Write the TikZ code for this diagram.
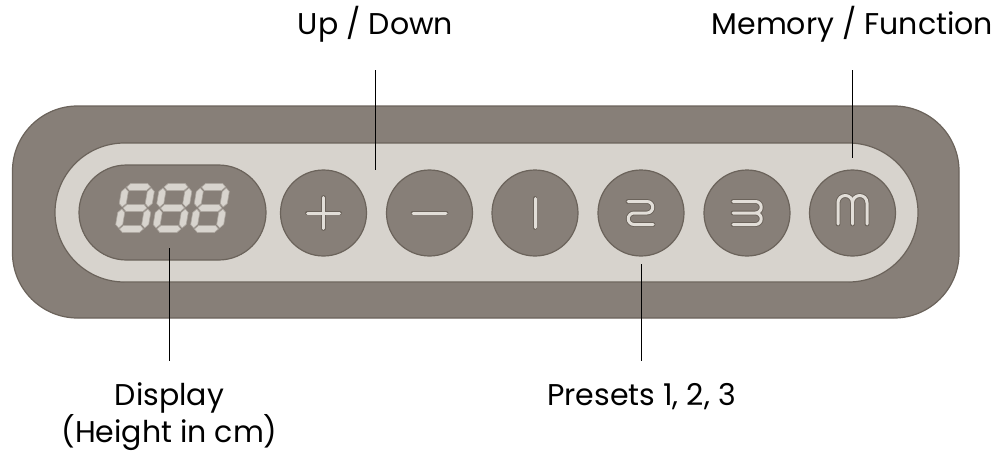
\documentclass[tikz,border=0pt]{standalone}
\usepackage{fontspec}
\setmainfont{Poppins}
\definecolor{shell}{HTML}{877F78}
\definecolor{rim}{HTML}{6B635B}
\definecolor{band}{HTML}{D7D3CD}
\definecolor{glyphfill}{HTML}{E2DED8}
\definecolor{segfill}{HTML}{D8D4CE}
\definecolor{segedge}{HTML}{ADA7A0}
\begin{document}
\begin{tikzpicture}[x=1pt,y=-1pt]
	\tikzset{
		panel/.style={draw=rim,line width=1.2pt,fill=#1},
		key/.style={circle,draw=rim,line width=1.2pt,fill=shell,minimum size=86pt,inner sep=0pt},
		glyph/.style={draw=rim,line width=0.9pt,double=glyphfill,double distance=3pt,line cap=round,line join=round},
		seg/.style={draw=segedge,line width=0.6pt,fill=segfill},
		callout/.style={font=\fontsize{30}{37}\selectfont,inner sep=0pt,text depth=0pt,anchor=base,align=center},
		leader/.style={draw=black,line width=1.1pt}
	}
	\useasboundingbox (0,0) rectangle (995,452);
	% housing
	\draw[panel=shell,rounded corners=65pt] (12.5,106) rectangle (959,318);
	\draw[panel=band,rounded corners=69.5pt] (55,143) rectangle (918,282);
	\node[panel=shell,rounded corners=47.5pt,minimum width=187pt,minimum height=95pt] (display) at (172.5,212.5) {};
	% keys
	\foreach \name/\x in {plus/323.5,minus/429.5,one/535,two/641,three/747,mem/852.5}
		\node[key] (\name) at (\x,213) {};
	% seven segment digits
	\foreach \cx in {135,172.5,210} {
		\begin{scope}[shift={(\cx,208)},xslant=0.17]
			\foreach \sy in {-21,0,21}
				\draw[seg] (-12,\sy) -- (-8.5,\sy-3.5) -- (8.5,\sy-3.5) -- (12,\sy) -- (8.5,\sy+3.5) -- (-8.5,\sy+3.5) -- cycle;
			\foreach \sx in {-13,13}
				\foreach \ya/\yb in {-20/-1,1/20}
					\draw[seg] (\sx,\ya) -- (\sx+3.5,\ya+3.5) -- (\sx+3.5,\yb-3.5) -- (\sx,\yb) -- (\sx-3.5,\yb-3.5) -- (\sx-3.5,\ya+3.5) -- cycle;
		\end{scope}
	}
	% key glyphs
	\draw[glyph,shift={(plus.center)}] (-16,0) -- (16,0) (0,-15.5) -- (0,15.5);
	\draw[glyph,shift={(minus.center)}] (-16.5,0) -- (16.5,0);
	\draw[glyph,shift={(one.center)}] (0,-14.5) -- (0,14.5);
	\draw[glyph,shift={(two.center)}] (-13,-11.5) -- (6,-11.5) arc[start angle=-90,end angle=90,radius=5.75]
		-- (-7,0) arc[start angle=-90,end angle=-270,radius=5.75] -- (12,11.5);
	\draw[glyph,shift={(three.center)}] (-14,-11.5) -- (8.5,-11.5) arc[start angle=-90,end angle=90,radius=5.75]
		arc[start angle=-90,end angle=90,radius=5.75] -- (-14,11.5) (8.5,0) -- (-14,0);
	\draw[glyph,shift={(mem.center)}] (-14.5,11) -- (-14.5,-10.25) arc[start angle=180,end angle=360,radius=7.25]
		-- (0,11) (0,-10.25) arc[start angle=180,end angle=360,radius=7.25] -- (14.5,11);
	% labels
	\node[callout] (updown) at (375.5,35) {Up / Down};
	\node[callout] (memfn) at (852.3,35) {Memory / Function};
	\node[callout] (presets) at (641.5,405) {Presets 1, 2, 3};
	\node[callout] (displaytext) at (169.5,442) {Display\\(Height in cm)};
	\coordinate (updown end) at (375.5,170);
	\coordinate (memfn end) at (852.3,158);
	\coordinate (presets end) at (641.5,264);
	\coordinate (displaytext end) at (169.5,248);
	\draw[leader,shorten <=35pt] (updown) -- (updown end);
	\draw[leader,shorten <=35pt] (memfn) -- (memfn end);
	\draw[leader] (presets end) -- (presets end |- 0,361);
	\draw[leader] (displaytext end) -- (displaytext end |- 0,361);
\end{tikzpicture}
\end{document}
